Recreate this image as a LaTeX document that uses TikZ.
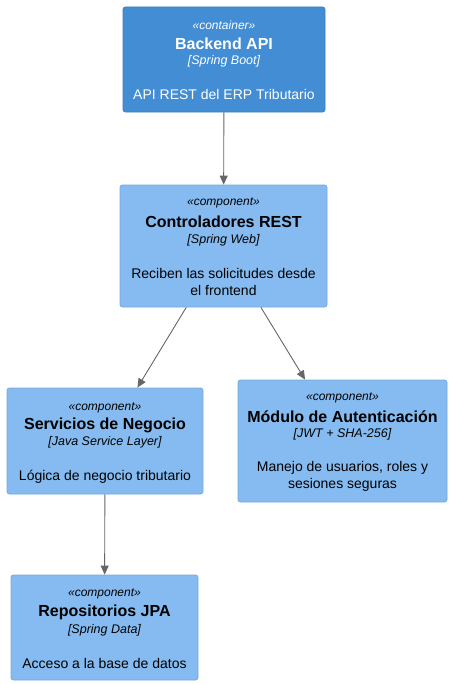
\documentclass[tikz,border=0pt]{standalone}
\usepackage{fontspec}
\setmainfont{Liberation Sans}
\usetikzlibrary{arrows.meta,calc}
\definecolor{contfill}{HTML}{438DD5}
\definecolor{contline}{HTML}{3C7FC0}
\definecolor{compfill}{HTML}{85BBF0}
\definecolor{compline}{HTML}{78A8D8}
\definecolor{arrcol}{HTML}{666666}
\tikzset{
  boxbase/.style={rectangle, rounded corners=2.5pt, line width=0.8pt, inner sep=0pt},
  contbox/.style={boxbase, fill=contfill, draw=contline},
  compbox/.style={boxbase, fill=compfill, draw=compline},
  stereo/.style={font=\fontsize{12}{14}\selectfont\itshape, inner sep=0pt},
  ttl/.style={font=\fontsize{16}{19}\selectfont\bfseries, inner sep=0pt},
  tech/.style={font=\fontsize{12.5}{15}\selectfont\itshape, inner sep=0pt},
  desc/.style={font=\fontsize{14}{17}\selectfont, inner sep=0pt, align=center},
  arr/.style={draw=arrcol, line width=0.9pt, -{Triangle[length=9pt,width=8pt]}, arrcol}
}
\begin{document}
\begin{tikzpicture}[x=1pt,y=-1pt]
\useasboundingbox (0,0) rectangle (452,685);
% boxes
\node[contbox, minimum width=202pt, minimum height=105pt] (api) at (224,59.5) {};
\node[compbox, minimum width=207pt, minimum height=122pt] (ctrl) at (223.5,246) {};
\node[compbox, minimum width=196pt, minimum height=106pt] (serv) at (105,441) {};
\node[compbox, minimum width=209pt, minimum height=122pt] (auth) at (342.5,441) {};
\node[compbox, minimum width=187pt, minimum height=105pt] (repo) at (104.5,627.5) {};
% texts: Backend API
\begin{scope}[text=white]
\node[stereo] (apis) at ($(api.north)+(0,18.5)$) {«container»};
\node[ttl] (apit) at ($(api.north)+(0,37.5)$) {Backend API};
\node[tech] (apih) at ($(api.north)+(0,55)$) {[Spring Boot]};
\node[desc] (apid) at ($(api.north)+(0,87.5)$) {API REST del ERP Tributario};
\end{scope}
% Controladores
\node[stereo] (ctrls) at ($(ctrl.north)+(0,18.5)$) {«component»};
\node[ttl] (ctrlt) at ($(ctrl.north)+(0,37.5)$) {Controladores REST};
\node[tech] (ctrlh) at ($(ctrl.north)+(0,55.5)$) {[Spring Web]};
\node[desc] (ctrld) at ($(ctrl.north)+(0,97)$) {Reciben las solicitudes desde\\el frontend};
% Servicios
\node[stereo] (servs) at ($(serv.north)+(0,20)$) {«component»};
\node[ttl] (servt) at ($(serv.north)+(0,37.5)$) {Servicios de Negocio};
\node[tech] (servh) at ($(serv.north)+(0,55)$) {[Java Service Layer]};
\node[desc] (servd) at ($(serv.north)+(0,89.5)$) {Lógica de negocio tributario};
% Auth
\node[stereo] (auths) at ($(auth.north)+(0,18.5)$) {«component»};
\node[ttl] (autht) at ($(auth.north)+(0,37.5)$) {Módulo de Autenticación};
\node[tech] (authh) at ($(auth.north)+(0,55)$) {[JWT + SHA-256]};
\node[desc] (authd) at ($(auth.north)+(0,97)$) {Manejo de usuarios, roles y\\sesiones seguras};
% Repositorios
\node[stereo] (repos) at ($(repo.north)+(0,19)$) {«component»};
\node[ttl] (repot) at ($(repo.north)+(0,37.5)$) {Repositorios JPA};
\node[tech] (repoh) at ($(repo.north)+(0,55.5)$) {[Spring Data]};
\node[desc] (repod) at ($(repo.north)+(0,88.5)$) {Acceso a la base de datos};
% arrows
\draw[arr] (api) -- (ctrl);
\draw[arr] (ctrl) -- (serv);
\draw[arr] (ctrl) -- (auth);
\draw[arr] (serv) -- (repo);
\end{tikzpicture}
\end{document}
